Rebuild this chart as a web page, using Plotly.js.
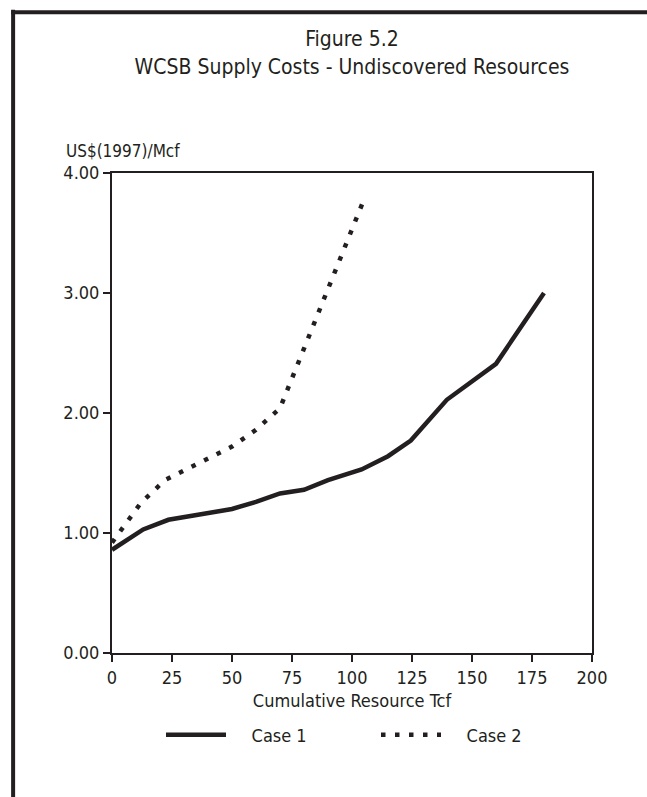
<!DOCTYPE html>
<html>
<head>
<meta charset="utf-8">
<script src="https://cdn.plot.ly/plotly-3.0.1.min.js"></script>
<style>
html,body{margin:0;padding:0;background:#fff;}
#chart{width:647px;height:797px;}
</style>
</head>
<body>
<div id="chart"></div>
<script>
// Data
var case1X = [0, 13, 23.5, 35, 50, 60, 70, 80, 90, 104, 115, 124.5, 139.5, 160, 180];
var case1Y = [0.86, 1.03, 1.11, 1.15, 1.20, 1.26, 1.33, 1.36, 1.44, 1.53, 1.64, 1.77, 2.11, 2.41, 3.00];
var case2X = [0, 12, 22, 50, 60, 70, 105];
var case2Y = [0.92, 1.25, 1.44, 1.72, 1.86, 2.04, 3.78];
var xTicks = [0, 25, 50, 75, 100, 125, 150, 175, 200];
var yTicks = [0, 1, 2, 3, 4];
var yTickText = ["0.00", "1.00", "2.00", "3.00", "4.00"];
var seriesNames = ["Case 1", "Case 2"];

var ink = "#231f20";
var font = "'DejaVu Sans Condensed', 'Liberation Sans Narrow', sans-serif";
var pad = "\u00A0\u00A0\u00A0\u00A0";

var traces = [
  {x: case1X, y: case1Y, name: pad + seriesNames[0], type: "scatter", mode: "lines",
   line: {color: ink, width: 4.5}},
  {x: case2X, y: case2Y, name: pad + seriesNames[1], type: "scatter", mode: "lines",
   line: {color: ink, width: 4.5, dash: "4.5px,9.5px"}}
];

var axisCommon = {
  showgrid: false, zeroline: false, showline: true, linecolor: ink, linewidth: 2,
  ticks: "outside", ticklen: 7, tickwidth: 1.3, tickcolor: ink,
  tickfont: {family: font, size: 18, color: ink}, fixedrange: true, automargin: false
};

var layout = {
  width: 647, height: 797,
  margin: {l: 112, r: 55, t: 173, b: 144},
  paper_bgcolor: "#fff", plot_bgcolor: "#fff",
  font: {family: font, color: ink},
  title: {text: "Figure 5.2<br>WCSB Supply Costs - Undiscovered Resources",
          font: {family: font, size: 21, color: ink},
          x: 0.5, xanchor: "center", xref: "paper", yref: "container", y: 0.942, yanchor: "top",
          automargin: false},
  xaxis: Object.assign({}, axisCommon, {
    range: [0, 200], tickvals: xTicks, ticktext: xTicks.map(String),
    mirror: true,
    title: {text: "Cumulative Resource Tcf", font: {family: font, size: 18, color: ink}, standoff: 8}
  }),
  yaxis: Object.assign({}, axisCommon, {
    range: [0, 4], tickvals: yTicks, ticktext: yTickText, mirror: true
  }),
  showlegend: true,
  legend: {orientation: "h", x: 0.55, xanchor: "center", yref: "container", y: 0.101, yanchor: "top",
           font: {family: font, size: 18, color: ink}, itemwidth: 60, entrywidth: 140,
           bgcolor: "rgba(0,0,0,0)", traceorder: "normal"},
  annotations: [
    {text: "US$(1997)/Mcf", xref: "paper", yref: "paper", x: -0.1, y: 1.0,
     xanchor: "left", yanchor: "bottom", yshift: 10, showarrow: false,
     font: {family: font, size: 17, color: ink}}
  ],
  shapes: [
    {type: "line", xref: "paper", yref: "paper", x0: -0.206, x1: -0.206, y0: 1.34, y1: -0.4,
     line: {color: ink, width: 4}},
    {type: "line", xref: "paper", yref: "paper", x0: -0.21, x1: 1.2, y0: 1.335, y1: 1.335,
     line: {color: ink, width: 4}}
  ]
};

Plotly.newPlot("chart", traces, layout, {displayModeBar: false, staticPlot: true});
</script>
</body>
</html>
